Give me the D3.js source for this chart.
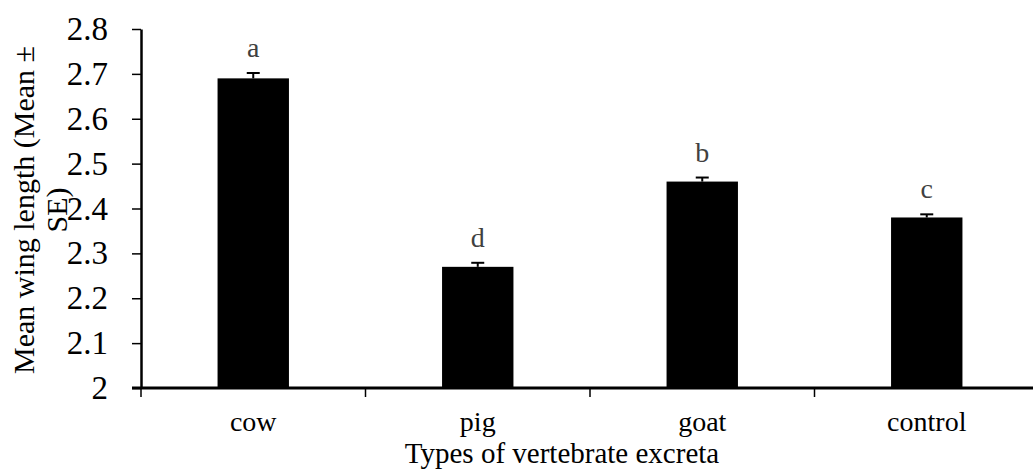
<!DOCTYPE html>
<html>
<head>
<meta charset="utf-8">
<script src="https://cdn.jsdelivr.net/npm/d3@7/dist/d3.min.js"></script>
<style>
  html, body { margin: 0; padding: 0; background: #fff; }
  svg { display: block; }
  text { font-family: "Liberation Serif", "Times New Roman", serif; }
</style>
</head>
<body>
<svg id="chart" width="1033" height="469"></svg>
<script>
// Mean wing length by type of vertebrate excreta
const categories = ["cow", "pig", "goat", "control"];
const means = [2.69, 2.27, 2.46, 2.38];
const stdErrors = [0.012, 0.009, 0.009, 0.007];
const groupLetters = ["a", "d", "b", "c"];
const yTicks = [2, 2.1, 2.2, 2.3, 2.4, 2.5, 2.6, 2.7, 2.8];
const yTickLabels = ["2", "2.1", "2.2", "2.3", "2.4", "2.5", "2.6", "2.7", "2.8"];
const xTitle = "Types of vertebrate excreta";
const yTitleLines = ["Mean wing length (Mean \u00b1", "SE)"];

const svg = d3.select("#chart");
const plotLeft = 141, plotRight = 1039, plotTop = 29, plotBottom = 388;

const x = d3.scaleBand()
  .domain(categories)
  .range([plotLeft, plotRight])
  .paddingInner(0.682)
  .paddingOuter(0.341);

const y = d3.scaleLinear().domain([2, 2.8]).range([plotBottom, plotTop]);

// bars
svg.append("g").selectAll("rect")
  .data(categories)
  .join("rect")
  .attr("x", d => x(d))
  .attr("width", x.bandwidth())
  .attr("y", (d, i) => y(means[i]))
  .attr("height", (d, i) => y(2) - y(means[i]))
  .attr("fill", "#000");

// error bars (upper half)
const eb = svg.append("g").attr("stroke", "#000").attr("stroke-width", 2);
categories.forEach((c, i) => {
  const cx = x(c) + x.bandwidth() / 2;
  eb.append("line")
    .attr("x1", cx).attr("x2", cx)
    .attr("y1", y(means[i])).attr("y2", y(means[i] + stdErrors[i]));
  eb.append("line")
    .attr("x1", cx - 6.5).attr("x2", cx + 6.5)
    .attr("y1", y(means[i] + stdErrors[i])).attr("y2", y(means[i] + stdErrors[i]));
});

// significance letters
svg.append("g").selectAll("text")
  .data(categories)
  .join("text")
  .attr("x", d => x(d) + x.bandwidth() / 2)
  .attr("y", (d, i) => y(means[i] + stdErrors[i]) - 16)
  .attr("text-anchor", "middle")
  .attr("font-size", 28)
  .attr("fill", "#404040")
  .text((d, i) => groupLetters[i]);

// y axis
const yAxis = svg.append("g")
  .attr("transform", `translate(${plotLeft},0)`)
  .call(d3.axisLeft(y).tickValues(yTicks)
    .tickFormat((d, i) => yTickLabels[i])
    .tickSize(9).tickPadding(24).tickSizeOuter(0));
yAxis.select(".domain").attr("stroke-width", 2.5);
yAxis.selectAll(".tick line").attr("stroke-width", 1.5);
yAxis.selectAll("text")
  .attr("font-size", 33)
  .attr("font-family", "Liberation Serif, Times New Roman, serif")
  .attr("fill", "#000");

// x axis: ticks at category boundaries
const boundaries = categories.map((c, i) =>
  i === 0 ? plotLeft : x(c) - x.step() * x.paddingInner() / 2);
const xAxisG = svg.append("g").attr("transform", `translate(0,${plotBottom})`);
xAxisG.append("line")
  .attr("x1", plotLeft - 9).attr("x2", 1033)
  .attr("y1", 0).attr("y2", 0)
  .attr("stroke", "#000").attr("stroke-width", 3);
xAxisG.selectAll("line.tick")
  .data(boundaries)
  .join("line")
  .attr("class", "tick")
  .attr("x1", d => d).attr("x2", d => d)
  .attr("y1", 0).attr("y2", 9)
  .attr("stroke", "#000").attr("stroke-width", 1.5);

// category labels
svg.append("g").selectAll("text")
  .data(categories)
  .join("text")
  .attr("x", d => x(d) + x.bandwidth() / 2)
  .attr("y", 431)
  .attr("text-anchor", "middle")
  .attr("font-size", 28)
  .attr("fill", "#000")
  .text(d => d);

// axis titles
svg.append("text")
  .attr("x", 562)
  .attr("y", 463)
  .attr("text-anchor", "middle")
  .attr("font-size", 29)
  .attr("fill", "#000")
  .text(xTitle);

const yt = svg.append("text")
  .attr("transform", "translate(34,210) rotate(-90)")
  .attr("text-anchor", "middle")
  .attr("font-size", 30)
  .attr("fill", "#000");
yTitleLines.forEach((line, i) => {
  yt.append("tspan").attr("x", 0).attr("y", i * 33).text(line);
});
</script>
</body>
</html>
